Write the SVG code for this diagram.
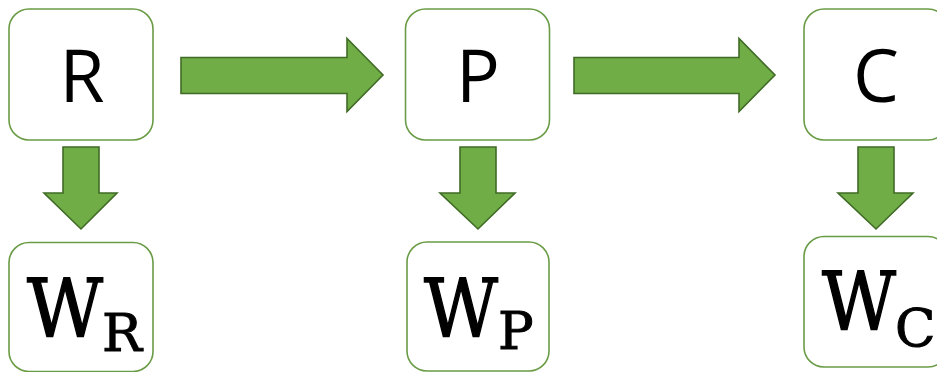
<svg xmlns="http://www.w3.org/2000/svg" width="937" height="372" viewBox="0 0 937 372">
  <style>
    .box { fill: #ffffff; stroke: #6a9c45; stroke-width: 1.6; }
    .arrow { fill: #70ad47; stroke: #3f6b25; stroke-width: 1.6; stroke-linejoin: miter; }
    .lbl { font-family: "Open Sans", "Liberation Sans", sans-serif; font-size: 73px; fill: #000000; text-anchor: middle; }
    .w { font-family: "DejaVu Serif", "Liberation Serif", serif; font-size: 81px; fill: #000000; stroke: #000000; stroke-width: 1.4; }
    .sub { font-size: 53px; stroke-width: 1; }
  </style>
  <rect width="937" height="372" fill="#ffffff"/>

  <!-- connectors: block arrows -->
  <g id="connectors">
    <polygon class="arrow" points="181,57.5 347,57.5 347,38.5 383,75 347,111.5 347,93.5 181,93.5"/>
    <polygon class="arrow" points="574,57.5 739,57.5 739,38.5 775,75 739,111.5 739,93.5 574,93.5"/>
    <polygon class="arrow" points="63,147 99,147 99,193 117,193 81,229 44,193 63,193"/>
    <polygon class="arrow" points="460,147 496,147 496,193 515,193 478,229 440,193 460,193"/>
    <polygon class="arrow" points="858,147 894,147 894,193 913,193 876,229 838,193 858,193"/>
  </g>

  <g id="node-R">
    <rect class="box" x="9" y="9" width="144" height="131" rx="20"/>
    <text class="lbl" x="82" y="102">R</text>
  </g>
  <g id="node-P">
    <rect class="box" x="405.5" y="9" width="144" height="131" rx="20"/>
    <text class="lbl" x="478" y="102">P</text>
  </g>
  <g id="node-C">
    <rect class="box" x="804" y="9" width="144" height="131" rx="20"/>
    <text class="lbl" x="876" y="102">C</text>
  </g>

  <!-- weight nodes: W with subscript, one text each -->
  <g id="node-WR">
    <rect class="box" x="9" y="242.5" width="144" height="129" rx="20"/>
    <text class="w" x="27" y="337"><tspan textLength="76" lengthAdjust="spacingAndGlyphs">W</tspan><tspan class="sub" x="102" y="351">R</tspan></text>
  </g>
  <g id="node-WP">
    <rect class="box" x="407" y="242" width="142" height="129" rx="20"/>
    <text class="w" x="424" y="337"><tspan textLength="74" lengthAdjust="spacingAndGlyphs">W</tspan><tspan class="sub" x="498" y="349">P</tspan></text>
  </g>
  <g id="node-WC">
    <rect class="box" x="804" y="236.5" width="144" height="130.5" rx="20"/>
    <text class="w" x="822" y="330"><tspan textLength="74" lengthAdjust="spacingAndGlyphs">W</tspan><tspan class="sub" x="895" y="346">C</tspan></text>
  </g>
</svg>
